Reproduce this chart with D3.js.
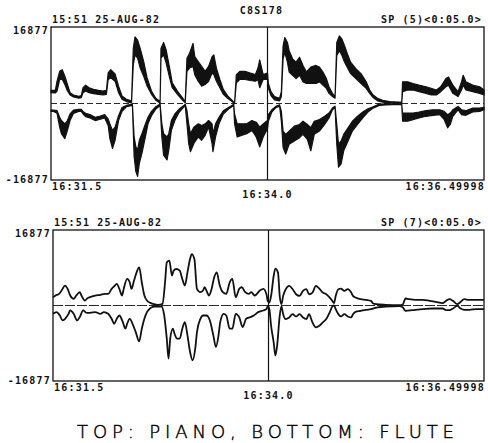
<!DOCTYPE html>
<html>
<head>
<meta charset="utf-8">
<script src="https://cdn.jsdelivr.net/npm/d3@7"></script>
<style>
  html, body { margin: 0; padding: 0; background: #fff; }
  svg { display: block; }
  .lbl { font-family: "DejaVu Sans Mono", monospace; font-weight: bold; font-size: 10px; letter-spacing: 1.2px; fill: #111; }
  .cap { font-family: "DejaVu Sans", sans-serif; font-weight: 200; font-size: 18px; fill: #000; stroke: #000; stroke-width: 0.45px; }
</style>
</head>
<body>
<svg id="chart" width="488" height="443"></svg>
<script>
// Full-scale amplitude of the 16-bit sample display
const FULL = 16877;

// Tick values (seconds after 16:31.5) and their labels
const timeTicks = [0, 2.5, 5];
const timeLabels = ["16:31.5", "16:34.0", "16:36.49998"];
const ampTicks = [FULL, -FULL];
const ampLabels = ["16877", "-16877"];

const headerDate = "15:51 25-AUG-82";
const plotTitle = "C8S178";
const spanLabels = ["SP (5)<0:05.0>", "SP (7)<0:05.0>"];
const caption = "TOP: PIANO, BOTTOM: FLUTE";

// Piano envelope: [time s, outer peak, inner edge of the noisy band]
const pianoUpper = [
  [0.00,2900,2390],[0.05,2900,2320],[0.07,4920,2750],[0.10,7100,5290],[0.13,7460,5290],[0.16,6010,4200],
  [0.19,4200,2750],[0.22,2390,1880],[0.26,1880,1450],[0.32,1590,1160],[0.35,1740,1300],[0.37,3480,2390],
  [0.40,4050,2750],[0.44,3480,2390],[0.49,3110,2170],[0.55,2900,2030],[0.60,2750,1880],[0.64,2900,2030],
  [0.66,6730,5290],[0.69,7460,5650],[0.74,6520,4920],[0.78,3840,2390],[0.82,1670,940],[0.87,940,430],
  [0.93,580,140],[0.95,12160,8540],[0.97,14700,10720],[1.00,13970,9990],[1.03,12160,7820],[1.07,9270,6010],
  [1.11,5650,3840],[1.16,2750,2030],[1.21,1160,720],[1.26,430,140],[1.27,12160,9990],[1.30,13470,10720],
  [1.33,11800,8910],[1.37,7820,5650],[1.40,4560,3480],[1.46,2750,2030],[1.51,1450,940],[1.55,430,140],
  [1.57,9990,7100],[1.60,11080,7820],[1.64,13250,8180],[1.66,10350,6370],[1.70,9270,4920],[1.74,8180,3840],
  [1.78,7100,4200],[1.82,8180,4920],[1.86,10350,6730],[1.88,10720,6370],[1.91,7820,4920],[1.95,5290,3480],
  [1.99,3110,2030],[2.04,1670,1160],[2.09,720,430],[2.12,140,0],[2.14,6370,4560],[2.18,7100,5290],
  [2.24,7100,5290],[2.30,6730,5070],[2.36,6370,4920],[2.39,7820,5290],[2.41,9630,3480],[2.45,6370,5290],
  [2.50,6730,5290],[2.51,4420,3330],[2.54,2610,1740],[2.58,1520,800],[2.64,1160,580],[2.66,2610,1520],
  [2.68,12740,9850],[2.70,14550,11290],[2.73,13470,9120],[2.75,11660,6950],[2.79,9850,6230],[2.83,9120,5500],
  [2.87,10210,6230],[2.91,8400,4780],[2.95,6950,4420],[3.00,8040,4420],[3.06,8400,4420],[3.10,8040,4780],
  [3.14,6950,4050],[3.18,5500,3330],[3.21,3690,2240],[3.25,2240,1520],[3.28,1520,1160],[3.30,13470,10570],
  [3.33,14910,11660],[3.36,14190,10570],[3.39,12740,9120],[3.43,10570,7670],[3.46,9120,6590],[3.52,7670,5500],
  [3.58,6590,4420],[3.64,4780,3330],[3.68,2970,2240],[3.72,1880,1300],[3.77,1160,580],[3.83,720,290],
  [3.91,430,140],[4.02,290,70],[4.05,290,0],[4.06,4780,2610],[4.12,4780,2970],[4.18,4420,2970],
  [4.25,4050,2610],[4.33,3690,2240],[4.39,3330,1880],[4.45,2970,1880],[4.50,3690,2610],[4.56,5500,3690],
  [4.59,5860,4050],[4.64,4050,2240],[4.70,2610,1520],[4.74,4780,2970],[4.76,6230,4050],[4.79,4780,2970],
  [4.87,4050,2610],[4.95,3690,2240],[5.00,2970,1880]
];

const pianoLower = [
  [0.00,-1740,-1450],[0.03,-1740,-1450],[0.07,-2170,-1590],[0.10,-5210,-3040],[0.12,-6660,-3760],[0.16,-7750,-4490],
  [0.19,-5940,-3760],[0.22,-3760,-2320],[0.26,-2170,-1450],[0.32,-1740,-1300],[0.35,-1740,-1300],[0.37,-2320,-1740],
  [0.40,-2900,-2170],[0.45,-3190,-2460],[0.51,-3760,-3040],[0.57,-3480,-2750],[0.62,-3190,-2460],[0.66,-4850,-3400],
  [0.68,-7750,-4490],[0.71,-9920,-5940],[0.74,-8110,-5210],[0.78,-3760,-2680],[0.82,-1740,-870],[0.87,-720,-430],
  [0.94,-430,-140],[0.96,-11730,-7380],[0.98,-14990,-9560],[1.00,-16070,-10280],[1.02,-13180,-8110],[1.05,-11000,-6660],
  [1.09,-7380,-4490],[1.12,-4490,-3040],[1.16,-2680,-1740],[1.21,-1230,-720],[1.26,-430,-140],[1.28,-7380,-4490],
  [1.30,-11370,-6660],[1.34,-12450,-7380],[1.36,-10280,-6660],[1.39,-5940,-3760],[1.43,-3760,-2320],[1.48,-1950,-1230],
  [1.53,-870,-510],[1.55,-430,-140],[1.57,-4490,-1590],[1.59,-8830,-4490],[1.61,-10640,-6660],[1.65,-8830,-5210],
  [1.70,-7380,-4490],[1.74,-8110,-4850],[1.78,-7020,-4490],[1.82,-5210,-3760],[1.86,-8830,-4490],[1.87,-10640,-6660],
  [1.90,-7380,-4490],[1.94,-4490,-3040],[1.99,-2320,-1590],[2.05,-1230,-870],[2.11,-430,-140],[2.12,-4490,-2320],
  [2.15,-7380,-4490],[2.20,-7020,-4490],[2.26,-6660,-4490],[2.32,-5940,-3760],[2.37,-7380,-4130],[2.41,-9560,-5210],
  [2.45,-7380,-4490],[2.50,-5570,-3760],[2.51,-3910,-2460],[2.55,-1880,-1380],[2.60,-870,-580],[2.64,-580,-290],
  [2.66,-3910,-1740],[2.68,-9700,-6080],[2.71,-11150,-6810],[2.75,-8980,-6080],[2.81,-8250,-5000],[2.87,-7530,-4630],
  [2.91,-6810,-3910],[2.96,-7890,-4630],[3.00,-10430,-5360],[3.04,-6810,-3910],[3.10,-6080,-3550],[3.16,-4630,-2820],
  [3.21,-3190,-2100],[3.25,-1380,-1010],[3.28,-870,-580],[3.30,-8980,-4630],[3.32,-14050,-8980],[3.35,-13320,-8250],
  [3.38,-10430,-6810],[3.43,-8250,-5360],[3.48,-6080,-3910],[3.54,-4630,-2820],[3.60,-3190,-1880],[3.66,-1880,-1160],
  [3.72,-1010,-720],[3.79,-430,-140],[3.87,-290,-70],[4.02,-220,-70],[4.05,-290,-140],[4.06,-3910,-2100],
  [4.12,-3910,-2100],[4.18,-3550,-2100],[4.25,-3190,-1880],[4.33,-2820,-1590],[4.41,-2610,-1380],[4.49,-2460,-1380],
  [4.54,-3550,-1740],[4.58,-5360,-2460],[4.61,-4630,-2100],[4.64,-2820,-1380],[4.70,-1380,-650],[4.74,-2460,-1380],
  [4.79,-2610,-1590],[4.87,-1880,-1010],[4.95,-1740,-1010],[5.00,-1380,-870]
];

// Flute envelope: [time s, amplitude]
const fluteUpper = [
  [0.00,1860],[0.03,2230],[0.07,2600],[0.10,3340],[0.14,4450],[0.17,3710],[0.20,2230],[0.24,1480],[0.27,2230],
  [0.31,2970],[0.33,2230],[0.37,1110],[0.40,1630],[0.43,1860],[0.49,2230],[0.55,2370],[0.60,2600],[0.64,2600],
  [0.68,3710],[0.71,4300],[0.74,4820],[0.77,3710],[0.80,2230],[0.82,3710],[0.86,5940],[0.89,5190],[0.91,3710],
  [0.94,5570],[0.97,7420],[1.00,8530],[1.03,5190],[1.06,2230],[1.09,1110],[1.13,590],[1.17,300],[1.22,150],
  [1.27,370],[1.30,5190],[1.32,9650],[1.35,10020],[1.38,6680],[1.40,7790],[1.43,8160],[1.47,7790],[1.50,5940],
  [1.53,4450],[1.56,7420],[1.59,10390],[1.61,11500],[1.64,10390],[1.67,3710],[1.71,2970],[1.74,3340],[1.76,4080],
  [1.78,3340],[1.81,2230],[1.84,3710],[1.87,6310],[1.90,7420],[1.93,4820],[1.97,2970],[2.01,2600],[2.05,5190],
  [2.08,5940],[2.12,1860],[2.16,3710],[2.19,4080],[2.23,2970],[2.27,2600],[2.30,2970],[2.34,2230],[2.40,3340],
  [2.44,3710],[2.48,2230],[2.49,1040],[2.51,670],[2.53,2150],[2.56,6600],[2.58,8240],[2.61,7350],[2.63,2150],
  [2.65,300],[2.67,2150],[2.70,3640],[2.74,4380],[2.78,3640],[2.82,2520],[2.86,2150],[2.90,3260],[2.94,3640],
  [2.97,2520],[3.01,2890],[3.05,4380],[3.09,3780],[3.13,2890],[3.17,2520],[3.21,1780],[3.24,1040],[3.26,520],
  [3.28,2150],[3.31,3640],[3.34,3780],[3.38,3260],[3.42,3640],[3.46,2890],[3.48,2150],[3.51,1780],[3.57,1410],
  [3.63,1260],[3.69,1040],[3.71,520],[3.75,300],[3.86,150],[4.02,70],[4.06,300],[4.08,1260],[4.09,1560],
  [4.13,1410],[4.21,1260],[4.29,1260],[4.37,1040],[4.44,820],[4.52,520],[4.56,1040],[4.60,1410],[4.64,1040],
  [4.69,300],[4.73,820],[4.77,1410],[4.83,1260],[4.91,1260],[5.00,1260]
];

const fluteLower = [
  [0.00,-1860],[0.04,-1480],[0.08,-2230],[0.11,-3340],[0.14,-2970],[0.18,-1860],[0.20,-1110],[0.24,-1860],[0.28,-3340],
  [0.31,-2600],[0.35,-1110],[0.39,-1630],[0.43,-1630],[0.49,-1480],[0.55,-1860],[0.59,-1480],[0.64,-1860],[0.68,-2970],
  [0.71,-4080],[0.74,-2970],[0.77,-2230],[0.81,-3710],[0.84,-5190],[0.86,-4080],[0.89,-2970],[0.93,-4450],[0.96,-5940],
  [1.00,-8010],[1.03,-5190],[1.06,-2970],[1.09,-1480],[1.13,-590],[1.18,-220],[1.26,-220],[1.29,-2230],[1.32,-7420],
  [1.34,-11870],[1.36,-7420],[1.39,-5190],[1.41,-6310],[1.44,-7420],[1.47,-7420],[1.50,-5190],[1.53,-3710],[1.56,-6680],
  [1.59,-10390],[1.62,-12240],[1.65,-9650],[1.67,-5940],[1.71,-2970],[1.74,-2230],[1.78,-2230],[1.82,-3340],[1.86,-6680],
  [1.89,-9280],[1.92,-6680],[1.94,-3710],[1.98,-1860],[2.01,-2230],[2.05,-5190],[2.08,-5190],[2.12,-1860],[2.16,-2600],
  [2.20,-4820],[2.24,-2970],[2.29,-2600],[2.33,-2230],[2.38,-1480],[2.44,-1110],[2.48,-740],[2.49,-70],[2.51,-820],
  [2.53,-4530],[2.56,-8240],[2.58,-11200],[2.60,-8980],[2.63,-2300],[2.65,-220],[2.67,-1930],[2.70,-3040],[2.74,-2670],
  [2.78,-1930],[2.82,-2450],[2.86,-1930],[2.90,-2670],[2.94,-3040],[2.97,-1930],[3.01,-3780],[3.05,-4900],[3.09,-4530],
  [3.13,-3780],[3.17,-3040],[3.21,-1560],[3.24,-220],[3.26,0],[3.28,-820],[3.31,-1930],[3.34,-2450],[3.38,-1930],
  [3.42,-2450],[3.46,-2670],[3.48,-1930],[3.51,-1410],[3.57,-1190],[3.63,-960],[3.69,-820],[3.75,-450],[3.86,-220],
  [4.02,-150],[4.06,-450],[4.08,-1040],[4.09,-1190],[4.17,-1040],[4.29,-820],[4.40,-670],[4.52,-670],[4.56,-1040],
  [4.60,-1040],[4.64,-670],[4.69,-70],[4.73,-670],[4.77,-960],[4.83,-960],[4.91,-820],[5.00,-820]
];

const svg = d3.select("#chart");
const ink = "#111";

// Draws one sample-display panel: frame, zero line, centre marker and labels
function drawPanel(box, spanLabel, showTitle) {
  const x = d3.scaleLinear().domain([0, 5]).range([box.left, box.right]);
  const y = d3.scaleLinear().domain([-FULL, FULL]).range([box.bottom, box.top]);
  const g = svg.append("g");

  // zero line
  g.append("line")
    .attr("x1", x(0)).attr("x2", x(5)).attr("y1", y(0)).attr("y2", y(0))
    .attr("stroke", ink).attr("stroke-width", 0.9)
    .attr("stroke-dasharray", box.dash);

  // frame
  g.append("rect")
    .attr("x", x(0)).attr("y", y(FULL))
    .attr("width", x(5) - x(0)).attr("height", y(-FULL) - y(FULL))
    .attr("fill", "none").attr("stroke", ink).attr("stroke-width", 1.3);

  // centre time marker
  g.append("line")
    .attr("x1", x(2.5)).attr("x2", x(2.5)).attr("y1", y(FULL)).attr("y2", y(-FULL))
    .attr("stroke", ink).attr("stroke-width", 1.2);

  // header
  g.append("text").attr("class", "lbl")
    .attr("x", x(0) + 1).attr("y", y(FULL) - 4.5).text(headerDate);
  g.append("text").attr("class", "lbl").attr("text-anchor", "end")
    .attr("x", x(5) - 2).attr("y", y(FULL) - 4.5).text(spanLabel);
  if (showTitle) {
    g.append("text").attr("class", "lbl").attr("text-anchor", "middle")
      .attr("x", x(2.5) - 6).attr("y", y(FULL) - 13).text(plotTitle);
  }

  // amplitude labels at the frame extremes
  ampTicks.forEach((v, i) => {
    g.append("text").attr("class", "lbl").attr("text-anchor", "end")
      .attr("x", x(0) - 2).attr("y", y(v) + (v > 0 ? 6.5 : 2.5)).text(ampLabels[i]);
  });

  // time labels: start, centre (dropped lower), end
  timeTicks.forEach((t, i) => {
    const anchor = i === 0 ? "start" : (i === 1 ? "middle" : "end");
    const dy = i === 1 ? 18 : 10;
    g.append("text").attr("class", "lbl").attr("text-anchor", anchor)
      .attr("x", x(t) + (i === 0 ? 1 : (i === 2 ? 1 : 0))).attr("y", y(-FULL) + dy)
      .text(timeLabels[i]);
  });

  return { x, y, g };
}

const pianoPanel = drawPanel({ left: 51, right: 484, top: 27, bottom: 180, dash: "6,3" }, spanLabels[0], true);
const flutePanel = drawPanel({ left: 53, right: 484, top: 230, bottom: 381, dash: "10,2" }, spanLabels[1], false);

// Piano: noisy band between outer peak and inner edge
[pianoUpper, pianoLower].forEach(series => {
  const band = d3.area()
    .x(d => pianoPanel.x(d[0]))
    .y0(d => pianoPanel.y(d[1]))
    .y1(d => pianoPanel.y(d[2]))
    .curve(d3.curveLinear);
  pianoPanel.g.append("path")
    .datum(series)
    .attr("d", band)
    .attr("fill", ink)
    .attr("stroke", ink)
    .attr("stroke-width", 1.2)
    .attr("stroke-linejoin", "round");
});

// Flute: smooth single envelope traces
[fluteUpper, fluteLower].forEach(series => {
  const line = d3.line()
    .x(d => flutePanel.x(d[0]))
    .y(d => flutePanel.y(d[1]))
    .curve(d3.curveMonotoneX);
  flutePanel.g.append("path")
    .datum(series)
    .attr("d", line)
    .attr("fill", "none")
    .attr("stroke", ink)
    .attr("stroke-width", 1.8)
    .attr("stroke-linejoin", "round");
});

// caption
svg.append("text").attr("class", "cap")
  .attr("x", 77).attr("y", 438)
  .attr("textLength", 377).attr("lengthAdjust", "spacing")
  .text(caption);
</script>
</body>
</html>
